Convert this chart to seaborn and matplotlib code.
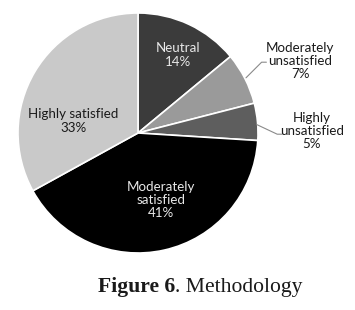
import matplotlib
matplotlib.use("Agg")
import matplotlib.pyplot as plt
import seaborn as sns
import numpy as np

# Data
categories = ["Neutral", "Moderately\nunsatisfied", "Highly\nunsatisfied",
              "Moderately\nsatisfied", "Highly satisfied"]
values = [14, 7, 5, 41, 33]
colors = ["#3b3b3b", "#9a9a9a", "#5e5e5e", "#000000", "#c9c9c9"]
text_colors = ["#e8e8e8", "#1a1a1a", "#1a1a1a", "#e8e8e8", "#1a1a1a"]

# layout of labels (data units, radius = 1)
label_pos = [(0.33, 0.65), (1.35, 0.60), (1.45, 0.02), (0.19, -0.56), (-0.54, 0.10)]
leaders = [None, ((0.90, 0.46), (1.03, 0.59)), ((0.99, 0.07), (1.16, -0.01)), None, None]

sns.set_theme(style="white")
plt.rcParams["font.family"] = ["Lato", "DejaVu Sans"]

W, H = 355, 310
fig = plt.figure(figsize=(W / 100, H / 100), dpi=100)
cx, cy, R = 138, 133, 120
ax = fig.add_axes([(cx - R) / W, (H - cy - R) / H, 2 * R / W, 2 * R / H])

wedges, _ = ax.pie(values, colors=colors, startangle=90, counterclock=False,
                   wedgeprops=dict(edgecolor="white", linewidth=1.2))
ax.set_xlim(-1, 1)
ax.set_ylim(-1, 1)
ax.set_aspect("equal")
ax.axis("off")

for cat, v, pos, tc, ld in zip(categories, values, label_pos, text_colors, leaders):
    ax.text(pos[0], pos[1], f"{cat}\n{v}%", ha="center", va="center",
            fontsize=9.6, color=tc, linespacing=1.1, clip_on=False)
    if ld is not None:
        (x0, y0), (x1, y1) = ld
        ax.plot([x0, x1, x1 + 0.04], [y0, y1, y1], color="#8a8a8a", lw=0.8, clip_on=False)

# Caption
t1 = fig.text(98 / W, 1 - 292 / H, "Figure 6", fontsize=15.6, fontweight="bold",
              family="Liberation Serif", ha="left", va="baseline", color="#1a1a1a")
fig.canvas.draw()
bb = t1.get_window_extent()
fig.text(bb.x1 / W, 1 - 292 / H, ". Methodology", fontsize=15.6,
         family="Liberation Serif", ha="left", va="baseline", color="#1a1a1a")

fig.savefig("out.png", dpi=100, facecolor="white")
